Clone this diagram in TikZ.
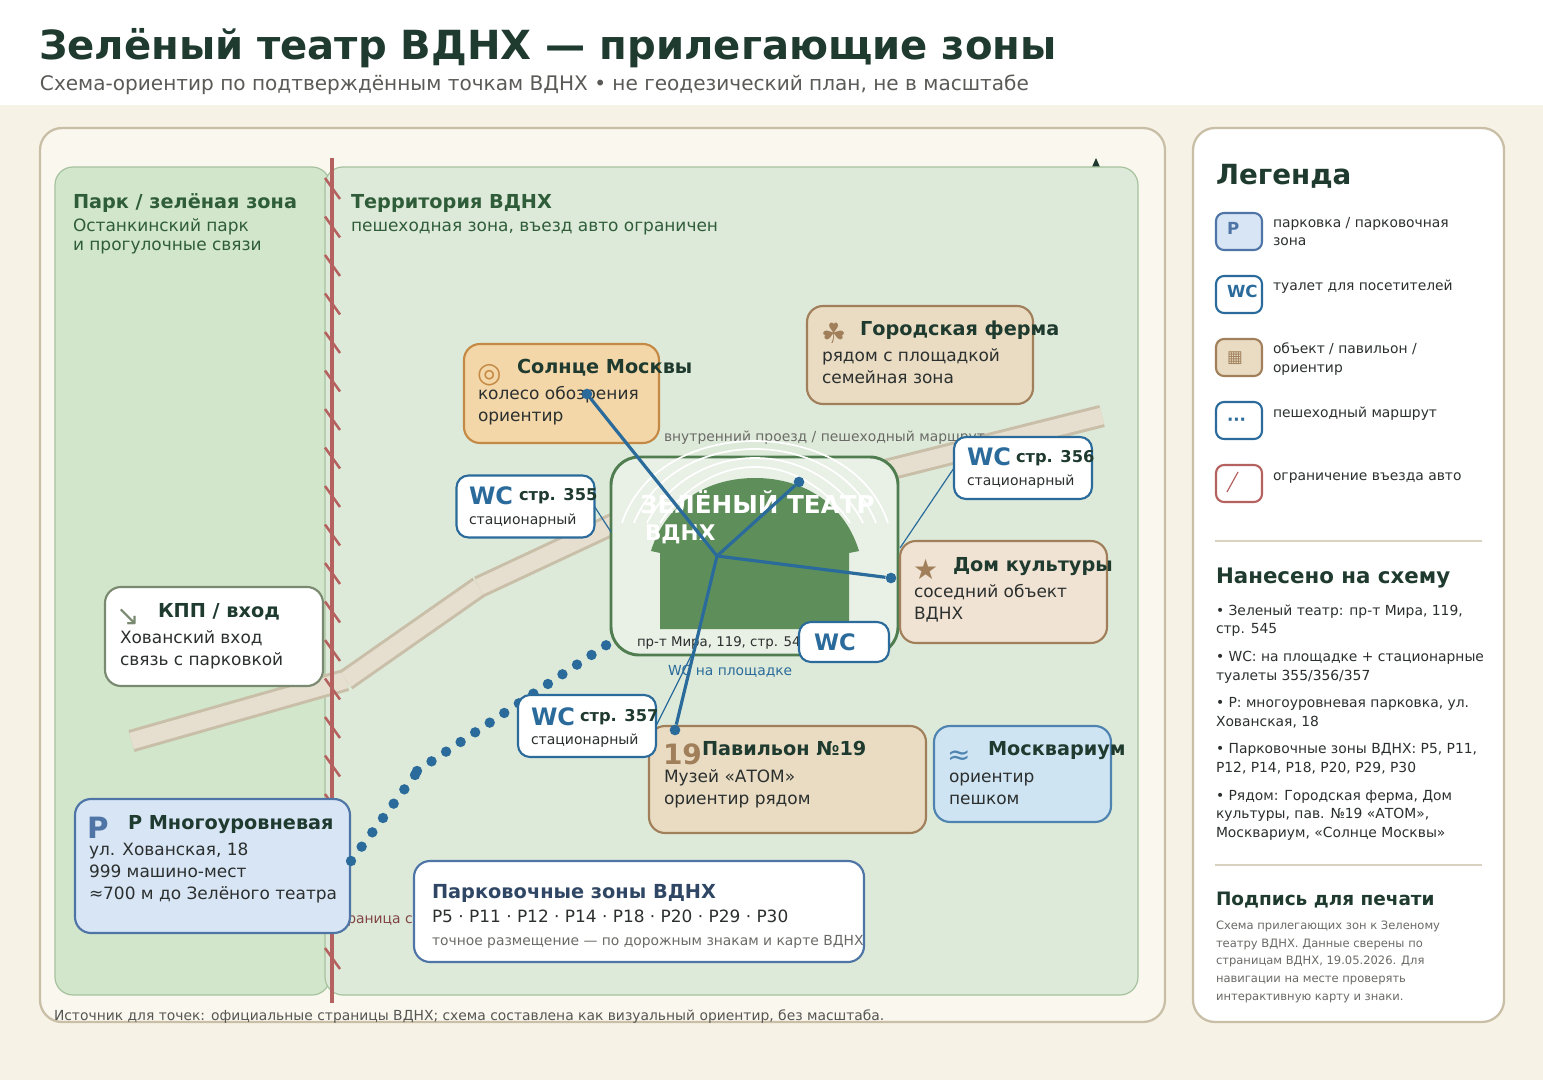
\documentclass[tikz,border=0pt]{standalone}
\usepackage{fontspec}
\setmainfont{DejaVu Sans}
\usetikzlibrary{positioning, calc}

\definecolor{pagebg}{HTML}{F6F2E6}
\definecolor{panelbg}{HTML}{FAF7EF}
\definecolor{panelline}{HTML}{C9BEA6}
\definecolor{parkfill}{HTML}{D1E6CA}
\definecolor{terrfill}{HTML}{DEEAD9}
\definecolor{zoneline}{HTML}{A6C29E}
\definecolor{inkdark}{HTML}{1F3A2F}
\definecolor{inkbody}{HTML}{2B2F2E}
\definecolor{inkgrey}{HTML}{6A6A66}
\definecolor{routeblue}{HTML}{2A6B9B}
\definecolor{parkblue}{HTML}{4F75A6}
\definecolor{parkfillb}{HTML}{D8E5F5}
\definecolor{aquafill}{HTML}{CFE4F3}
\definecolor{aqualine}{HTML}{4F84B0}
\definecolor{brownline}{HTML}{A07F5A}
\definecolor{redline}{HTML}{B5615F}
\definecolor{greenhead}{HTML}{2F5D3A}
\definecolor{gateline}{HTML}{7A8A70}
\definecolor{stagegreen}{HTML}{5E8F5B}
\definecolor{stageline}{HTML}{4F7D50}
\definecolor{stagefill}{HTML}{E9F0E6}
\definecolor{roadedge}{HTML}{C9BFA9}
\definecolor{roadfill}{HTML}{E6DFCF}
\definecolor{sandfill}{HTML}{E9DCC3}
\definecolor{sunfill}{HTML}{F3D7A9}
\definecolor{sunline}{HTML}{C48A45}
\definecolor{housefill}{HTML}{F0E3D3}

\begin{document}
\begin{tikzpicture}[
    x=0.75pt, y=-0.75pt,
% Define custom styles for cards and text
    wh/.style 2 args={minimum width=#1*0.75pt, minimum height=#2*0.75pt},
    card/.style={
        draw,
        rectangle,
        anchor=north west,
        rounded corners=12pt,
        line width=1.6pt,
        inner sep=0pt,
        outer sep=0pt
        },
    panel/.style={card, draw=panelline, rounded corners=16.5pt, line width=1.7pt},
    zone/.style={card, draw=zoneline, rounded corners=13.5pt, line width=0.9pt},
    wccard/.style={card, draw=routeblue, fill=white, rounded corners=9pt},
    legicon/.style={card, rounded corners=6pt, wh={46}{37}},
    txt/.style={anchor=base west, inner sep=0pt, outer sep=0pt},
    line/.style={txt, text=inkbody, font=\fontsize{12.72}{15}\selectfont},
    head/.style={txt, text=inkdark, font=\bfseries\fontsize{14.45}{17}\selectfont},
    glyph/.style={txt, font=\fontsize{21}{24}\selectfont},
    wcmark/.style={txt, text=routeblue, font=\bfseries\fontsize{18}{20}\selectfont},
    wcnum/.style={txt, text=inkdark, font=\bfseries\fontsize{12.2}{14}\selectfont},
    wcsub/.style={txt, text=inkbody, font=\fontsize{10.5}{12}\selectfont},
    legtext/.style={txt, text=inkbody, font=\fontsize{10.4}{12}\selectfont},
    smalltext/.style={txt, text=inkgrey, font=\fontsize{8.65}{10}\selectfont},
    sidehead/.style={txt, text=inkdark, font=\bfseries\fontsize{16}{18}\selectfont},
    greenline/.style={txt, text=greenhead, font=\fontsize{12.72}{15}\selectfont},
    dot/.style={circle, fill=routeblue, inner sep=0pt, minimum size=8pt},
    hubline/.style={draw=routeblue, line width=2.4pt},
    leader/.style={draw=routeblue, line width=0.9pt},
    route/.style={draw=routeblue, line width=7.8pt, line cap=round}
]
\useasboundingbox (0,0) rectangle (1543,1080);
\fill[pagebg] (0,0) rectangle (1543,1080);
\fill[white] (0,0) rectangle (1543,105);

% header
\node[txt, text=inkdark, font=\bfseries\fontsize{30.1}{34}\selectfont] (title) at (39,60) {Зелёный театр ВДНХ — прилегающие зоны};
\node[txt, text=inkgrey!85!black, font=\fontsize{15.05}{18}\selectfont] (subtitle) at (40,91) {Схема-ориентир по подтверждённым точкам ВДНХ • не геодезический план, не в масштабе};

% panels
\node[panel, fill=panelbg, wh={1125}{894}] (mappanel) at (40,128) {};
\node[panel, fill=white, wh={311}{894}] (sidepanel) at (1193,128) {};

\fill[inkdark] (1096,158) -- (1100,167) -- (1092,167) -- cycle;

% zones
\node[zone, fill=parkfill, wh={275}{828}] (park) at (55,167) {};
\node[zone, fill=terrfill, wh={813}{828}] (terr) at (325,167) {};
\node[txt, text=greenhead, font=\bfseries\fontsize{14.45}{17}\selectfont] (parkhead) at (73,209) {Парк / зелёная зона};
\node[greenline] (parkl1) at (73,232) {Останкинский парк};
\node[greenline] (parkl2) at (73,251) {и прогулочные связи};
\node[txt, text=greenhead, font=\bfseries\fontsize{14.45}{17}\selectfont] (terrhead) at (351,209) {Территория ВДНХ};
\node[greenline] (terrl1) at (351,232) {пешеходная зона, въезд авто ограничен};

% road
\coordinate (r1) at (131.5,741);
\coordinate (r2) at (346,680);
\coordinate (r3) at (479,587);
\coordinate (r4) at (650,507);
\coordinate (r5) at (755,503);
\coordinate (r6) at (1102,416);
\foreach \a/\b in {r1/r2,r2/r3,r3/r4,r4/r5,r5/r6} {
    \draw[roadedge, line width=17pt] (\a) -- (\b);
    \draw[roadfill, line width=12.5pt] (\a) -- (\b);
}
\node[txt, text=inkgrey, font=\fontsize{10.4}{12}\selectfont] (roadlabel) at (664,442) {внутренний проезд / пешеходный маршрут};

% restricted border
\draw[redline, line width=3pt] (332,158) -- (332,1003);
\foreach \i in {0,...,20}
    \draw[redline, line width=1.9pt] (325,178+38.5*\i) -- (340,199+38.5*\i);
\node[txt, text=redline!70!black, font=\fontsize{10.4}{12}\selectfont] (borderlabel) at (340,923) {граница с};

% theatre
\node[card, draw=stageline, fill=stagefill, wh={287}{198}, rounded corners=21pt, line width=2.2pt] (stage) at (611,457) {};
\fill[stagegreen] (660,629) -- (660,553) -- (651,551)
    .. controls (665,505) and (705,478) .. (755,478)
    .. controls (805,478) and (845,505) .. (859,551)
    -- (849,553) -- (849,629) -- cycle;
\foreach \hw/\tp in {133/441,121/449,108/458,95/467} {
    \draw[white, line width=1.3pt] (755-\hw,523) .. controls (755-\hw+18,\tp+28) and (755-\hw*0.45,\tp) .. (755,\tp)
        .. controls (755+\hw*0.45,\tp) and (755+\hw-18,\tp+28) .. (755+\hw,523);
}
\node[txt, text=white, font=\bfseries\fontsize{18.5}{20}\selectfont] (stagel1) at (640,513) {ЗЕЛЁНЫЙ ТЕАТР};
\node[txt, text=white, font=\bfseries\fontsize{16.2}{20}\selectfont] (stagel2) at (645,541) {ВДНХ};
\node[txt, text=inkbody, font=\fontsize{10}{12}\selectfont] (stageaddr) at (637,646) {пр-т Мира, 119, стр. 545};
\node[txt, text=routeblue, font=\fontsize{10.4}{12}\selectfont] (wcplace) at (668,675) {WC на площадке};

% object cards
\node[card, draw=brownline, fill=sandfill, wh={226}{98}] (farm) at (807,306) {};
\node[glyph, text=brownline] (farmicon) at (821,344) {☘};
\node[head] (farmhead) at (860,336) {Городская ферма};
\node[line] (farml1) at (822,362) {рядом с площадкой};
\node[line] (farml2) at (822,384) {семейная зона};

\node[card, draw=sunline, fill=sunfill, wh={195}{99}] (sun) at (464,344) {};
\node[glyph, text=sunline] (sunicon) at (477,383) {◎};
\node[head] (sunhead) at (517,374) {Солнце Москвы};
\node[line] (sunl1) at (478,400) {колесо обозрения};
\node[line] (sunl2) at (478,422) {ориентир};

\node[card, draw=brownline, fill=housefill, wh={207}{102}] (house) at (900,541) {};
\node[glyph, text=brownline] (houseicon) at (913,580) {★};
\node[head] (househead) at (953,571) {Дом культуры};
\node[line] (housel1) at (914,597) {соседний объект};
\node[line] (housel2) at (914,619) {ВДНХ};

\node[card, draw=brownline, fill=sandfill, wh={277}{107}] (pavil) at (649,726) {};
\node[txt, text=brownline, font=\bfseries\fontsize{21}{24}\selectfont] (pavilicon) at (663,764) {19};
\node[head] (pavilhead) at (702,755) {Павильон №19};
\node[line] (pavill1) at (664,782) {Музей «АТОМ»};
\node[line] (pavill2) at (664,804) {ориентир рядом};

\node[card, draw=aqualine, fill=aquafill, wh={177}{96}] (aqua) at (934,726) {};
\node[glyph, text=aqualine] (aquaicon) at (947,764) {≈};
\node[head] (aquahead) at (988,755) {Москвариум};
\node[line] (aqual1) at (949,782) {ориентир};
\node[line] (aqual2) at (949,804) {пешком};

\node[card, draw=gateline, fill=white, wh={218}{99}] (gate) at (105,587) {};
\node[glyph, text=gateline] (gateicon) at (116,625) {↘};
\node[head] (gatehead) at (158,617) {КПП / вход};
\node[line] (gatel1) at (120,643) {Хованский вход};
\node[line] (gatel2) at (120,665) {связь с парковкой};

\node[card, draw=parkblue, fill=parkfillb, wh={275}{134}] (parking) at (75,799) {};
\node[txt, text=parkblue, font=\bfseries\fontsize{22}{24}\selectfont] (parkingicon) at (87,838) {P};
\node[head] (parkinghead) at (128,829) {P Многоуровневая};
\node[line] (parkingl1) at (89,855) {ул. Хованская, 18};
\node[line] (parkingl2) at (89,877) {999 машино-мест};
\node[line] (parkingl3) at (89,899) {≈700 м до Зелёного театра};

\node[card, draw=parkblue, fill=white, wh={450}{101}] (pzones) at (414,861) {};
\node[txt, text=parkblue!60!black, font=\bfseries\fontsize{14.5}{17}\selectfont] (pzoneshead) at (432,898) {Парковочные зоны ВДНХ};
\node[line, font=\fontsize{12.7}{14}\selectfont] (pzonesl1) at (432,922) {P5 · P11 · P12 · P14 · P18 · P20 · P29 · P30};
\node[txt, text=inkgrey, font=\fontsize{10.4}{12}\selectfont] (pzonesl2) at (432,945) {точное размещение — по дорожным знакам и карте ВДНХ};

% walking route
\coordinate (pdot) at (351,861);
\coordinate (benda) at (415,775);
\coordinate (bendb) at (417,771);
\coordinate (tdot) at (606.5,645);
\draw[route, dash pattern=on 0pt off 13.4pt] (pdot) -- (benda);
\draw[route, dash pattern=on 0pt off 13.1pt] (bendb) -- (tdot);

% toilets
\node[wccard, wh={138}{62}] (wcleft) at (456.5,475.5) {};
\node[wcmark] (wcleftm) at (469,505) {WC};
\node[wcnum] (wcleftn) at (519,501) {стр. 355};
\node[wcsub] (wcleftl) at (469,525) {стационарный};

\node[wccard, wh={138}{62}] (wcright) at (954,437) {};
\node[wcmark] (wcrightm) at (967,466) {WC};
\node[wcnum] (wcrightn) at (1016,463) {стр. 356};
\node[wcsub] (wcrightl) at (967,486) {стационарный};

\node[wccard, wh={138}{62}] (wclow) at (518,695) {};
\node[wcmark] (wclowm) at (531,725) {WC};
\node[wcnum] (wclown) at (580,721) {стр. 357};
\node[wcsub] (wclowl) at (531,744) {стационарный};

\node[wccard, wh={90}{40}] (wcstage) at (799,622) {};
\node[wcmark, font=\bfseries\fontsize{17}{20}\selectfont] (wcstagem) at (814,650) {WC};

\draw[leader] (wcleft.east) -- ($(stage.west) + (0,-24)$);
\draw[leader] (wcright.west) -- ($(stage.east) + (2,-8)$);
\draw[leader] (wclow.east) -- ($(stage.south) + (-63,0)$);

% links from the hub
\coordinate (hub) at (717,556);
\node[dot] (dsun) at (587,394) {};
\node[dot] (dstage) at (799,482) {};
\node[dot] (dhouse) at (891,578) {};
\node[dot] (dpavil) at (675,730) {};
\draw[hubline] (hub) -- (dsun);
\draw[hubline] (hub) -- (dstage);
\draw[hubline] (hub) -- (dhouse);
\draw[hubline] (hub) -- (dpavil);

\node[txt, text=inkgrey!80!black, font=\fontsize{10.4}{12}\selectfont] (footer) at (54,1020) {Источник для точек: официальные страницы ВДНХ; схема составлена как визуальный ориентир, без масштаба.};

% legend
\node[txt, text=inkdark, font=\bfseries\fontsize{20.8}{24}\selectfont] (leghead) at (1216,185) {Легенда};

\node[legicon, draw=parkblue, fill=parkfillb] (legp) at (1216,213) {};
\node[txt, text=parkblue, font=\bfseries\fontsize{12.5}{14}\selectfont] (legpm) at (1227,235) {P};
\node[legtext] (legpa) at (1273,227.7) {парковка / парковочная};
\node[legtext] (legpb) at (1273,245.7) {зона};

\node[legicon, draw=routeblue, fill=white] (legw) at (1216,276) {};
\node[txt, text=routeblue, font=\bfseries\fontsize{12.5}{14}\selectfont] (legwm) at (1227,298) {WC};
\node[legtext] (legwa) at (1273,290.7) {туалет для посетителей};

\node[legicon, draw=brownline, fill=sandfill] (lego) at (1216,339) {};
\node[txt, text=brownline, font=\fontsize{12.5}{14}\selectfont] (legom) at (1227,363) {▦};
\node[legtext] (legoa) at (1273,353.7) {объект / павильон /};
\node[legtext] (legob) at (1273,372.7) {ориентир};

\node[legicon, draw=routeblue, fill=white] (legr) at (1216,402) {};
\node[txt, text=routeblue, font=\bfseries\fontsize{12.5}{14}\selectfont] (legrm) at (1227,426) {···};
\node[legtext] (legra) at (1273,417.7) {пешеходный маршрут};

\node[legicon, draw=redline, fill=white] (legx) at (1216,465) {};
\draw[redline, line width=0.9pt] (1227,492) -- (1238,472);
\node[legtext] (legxa) at (1273,480.4) {ограничение въезда авто};

\draw[panelline!70!white, line width=0.9pt] (1215,541) -- (1482,541);
\draw[panelline!70!white, line width=0.9pt] (1215,865) -- (1482,865);

\node[sidehead] (markedhead) at (1216,583) {Нанесено на схему};
\node[legtext] (m1) at (1216,615) {• Зеленый театр: пр-т Мира, 119,};
\node[legtext] (m2) at (1216,633) {стр. 545};
\node[legtext] (m3) at (1216,661) {• WC: на площадке + стационарные};
\node[legtext] (m4) at (1216,680) {туалеты 355/356/357};
\node[legtext] (m5) at (1216,707) {• P: многоуровневая парковка, ул.};
\node[legtext] (m6) at (1216,726) {Хованская, 18};
\node[legtext] (m7) at (1216,753) {• Парковочные зоны ВДНХ: P5, P11,};
\node[legtext] (m8) at (1216,772) {P12, P14, P18, P20, P29, P30};
\node[legtext] (m9) at (1216,800) {• Рядом: Городская ферма, Дом};
\node[legtext] (m10) at (1216,818) {культуры, пав. №19 «АТОМ»,};
\node[legtext] (m11) at (1216,837) {Москвариум, «Солнце Москвы»};

\node[sidehead, font=\bfseries\fontsize{13.85}{18}\selectfont] (printhead) at (1216,905) {Подпись для печати};
\node[smalltext] (s1) at (1216,929) {Схема прилегающих зон к Зеленому};
\node[smalltext] (s2) at (1216,947) {театру ВДНХ. Данные сверены по};
\node[smalltext] (s3) at (1216,964) {страницам ВДНХ, 19.05.2026. Для};
\node[smalltext] (s4) at (1216,982) {навигации на месте проверять};
\node[smalltext] (s5) at (1216,1000) {интерактивную карту и знаки.};
\end{tikzpicture}
\end{document}
